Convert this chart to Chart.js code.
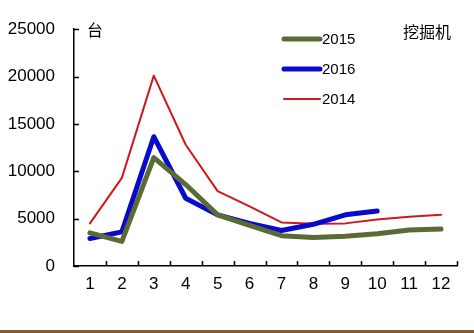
<!DOCTYPE html>
<html>
<head>
<meta charset="utf-8">
<script src="https://cdn.jsdelivr.net/npm/chart.js@4"></script>
<style>
  html, body { margin: 0; padding: 0; background: #fff; }
  #wrap { width: 474px; height: 333px; }
</style>
</head>
<body>
<div id="wrap"><canvas id="chart" width="474" height="333"></canvas></div>
<script>
// months
var months = ['1', '2', '3', '4', '5', '6', '7', '8', '9', '10', '11', '12'];
// sales (units)
var sales2015 = [3500, 2600, 11450, 8600, 5400, 4300, 3200, 3000, 3150, 3400, 3800, 3900];
var sales2016 = [2900, 3600, 13650, 7150, 5400, 4500, 3750, 4400, 5400, 5800];
var sales2014 = [4500, 9300, 20100, 12800, 7900, 6300, 4600, 4450, 4500, 4900, 5200, 5400];
var yTicks = [0, 5000, 10000, 15000, 20000, 25000];

var font = 'Arial, "Liberation Sans", sans-serif';

// ticks drawn inward, legend at custom spot, unit labels, brown bottom rule
var extras = {
  id: 'extras',
  afterDraw: function (chart) {
    var ctx = chart.ctx;
    var area = chart.chartArea;
    var x = chart.scales.x, y = chart.scales.y;
    ctx.save();
    ctx.strokeStyle = '#000';
    ctx.lineWidth = 1.5;
    ctx.beginPath();
    yTicks.forEach(function (v) {
      var py = Math.round(y.getPixelForValue(v)) + 0.5;
      ctx.moveTo(area.left, py);
      ctx.lineTo(area.left + 5, py);
    });
    var step = (area.right - area.left) / months.length;
    for (var i = 1; i <= months.length; i++) {
      var px = Math.round(area.left + i * step) + 0.5;
      ctx.moveTo(px, area.bottom);
      ctx.lineTo(px, area.bottom - 5);
    }
    ctx.stroke();

    // legend
    ctx.font = '15px ' + font;
    ctx.textBaseline = 'middle';
    ctx.fillStyle = '#000';
    chart.data.datasets.forEach(function (ds, k) {
      var ly = 39 + k * 30;
      ctx.strokeStyle = ds.borderColor;
      ctx.lineWidth = ds.borderWidth;
      ctx.lineCap = 'round';
      ctx.beginPath();
      ctx.moveTo(284, ly);
      ctx.lineTo(320, ly);
      ctx.stroke();
      ctx.fillText(ds.label, 322, ly + 1);
    });

    ctx.font = '16px "Noto Sans CJK SC", sans-serif';
    ctx.fillText('台', 87, 30);
    ctx.fillText('挖掘机', 403, 32);

    ctx.fillStyle = '#8B5A2B';
    ctx.fillRect(0, 330, 474, 3);
    ctx.restore();
  }
};

new Chart(document.getElementById('chart').getContext('2d'), {
  type: 'line',
  data: {
    labels: months,
    datasets: [
      { label: '2015', data: sales2015, borderColor: '#5A6B35', borderWidth: 5 },
      { label: '2016', data: sales2016, borderColor: '#0A0ACD', borderWidth: 5 },
      { label: '2014', data: sales2014, borderColor: '#D0181C', borderWidth: 2 }
    ]
  },
  options: {
    responsive: false,
    animation: false,
    layout: { padding: { top: 26, right: 17, left: 0, bottom: 0 } },
    elements: {
      point: { radius: 0 },
      line: { tension: 0, borderJoinStyle: 'round', borderCapStyle: 'round' }
    },
    plugins: { legend: { display: false }, tooltip: { enabled: false } },
    scales: {
      x: {
        offset: true,
        grid: { display: false, drawTicks: false },
        border: { display: true, color: '#000', width: 1.5 },
        ticks: { color: '#000', font: { size: 17, family: font }, padding: 8, maxRotation: 0 },
        afterFit: function (s) { s.height = 67; }
      },
      y: {
        min: 0, max: 25000,
        grid: { display: false, drawTicks: false },
        border: { display: true, color: '#000', width: 1.5 },
        ticks: {
          stepSize: 5000, color: '#000', font: { size: 17, family: font }, padding: 19,
          callback: function (v) { return String(v); }
        },
        afterFit: function (s) { s.width = 74; }
      }
    }
  },
  plugins: [extras]
});
</script>
</body>
</html>
